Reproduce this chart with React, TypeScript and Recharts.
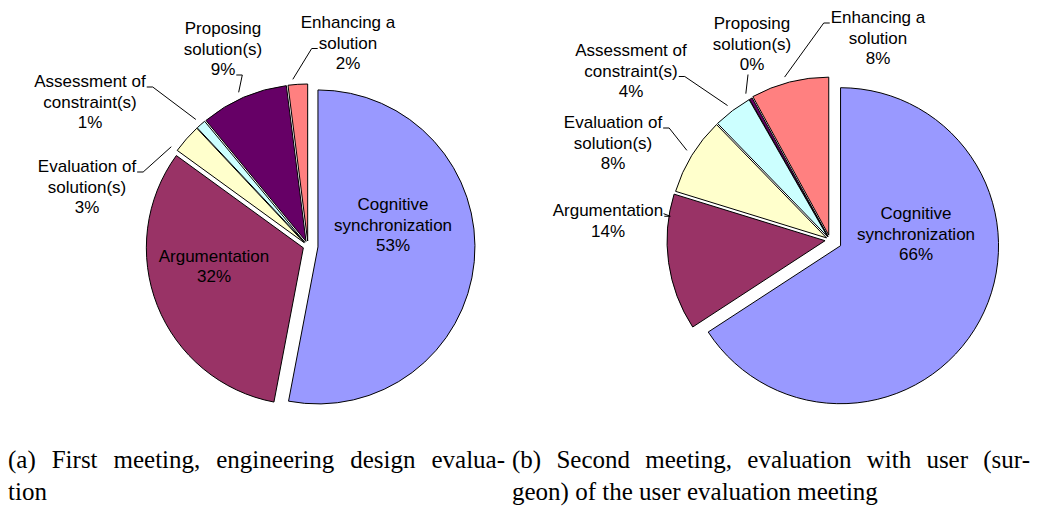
import { PieChart, Pie, Cell } from 'recharts'

// ── Data ─────────────────────────────────────────────────
const categories = [
  'Cognitive synchronization',
  'Argumentation',
  'Evaluation of solution(s)',
  'Assessment of constraint(s)',
  'Proposing solution(s)',
  'Enhancing a solution',
]
// how the category names wrap in the slice labels
const labelLines = [
  ['Cognitive', 'synchronization'],
  ['Argumentation'],
  ['Evaluation of', 'solution(s)'],
  ['Assessment of', 'constraint(s)'],
  ['Proposing', 'solution(s)'],
  ['Enhancing a', 'solution'],
]
// percentages (the 0% slice is a hairline, so a small value)
const firstMeeting = [53, 32, 3, 1, 9, 2]
const secondMeeting = [66, 14, 8, 4, 0.3, 8]

const captionA = ['(a) First meeting, engineering design evalua-', 'tion']
const captionB = ['(b) Second meeting, evaluation with user (sur-', 'geon) of the user evaluation meeting']

// ── Style ────────────────────────────────────────────────
const COLORS = ['#9999FF', '#993366', '#FFFFCC', '#CCFFFF', '#660066', '#FF8080']
const FONT = '"Liberation Sans", Arial, sans-serif'
const FONT_SIZE = 17
const LINE_H = 20.5

type LabelCfg = {
  dx: number
  dy: number
  anchor?: 'right' | 'left' | 'bottom'
  line?: number
  shift?: number
}
type ChartCfg = { cx: number; cy: number; r: number; explode: number[]; labels: LabelCfg[] }

const CHART_A: ChartCfg = {
  cx: 303,
  cy: 241,
  r: 157,
  explode: [10, 5, 5, 5, 5, 5],
  labels: [
    { dx: 90, dy: -16 },
    { dx: -89, dy: 25.5 },
    { dx: -216, dy: -54, anchor: 'right', line: 0, shift: -6 },
    { dx: -213, dy: -139, anchor: 'right', line: 0 },
    { dx: -80, dy: -192, anchor: 'right', line: 2 },
    { dx: 45, dy: -198, anchor: 'left', line: 1 },
  ],
}

const CHART_B: ChartCfg = {
  cx: 305,
  cy: 235,
  r: 158,
  explode: [12, 5, 4, 4, 4, 5],
  labels: [
    { dx: 91, dy: -1 },
    { dx: -217, dy: -14, anchor: 'right', line: 0, shift: 16 },
    { dx: -212, dy: -92, anchor: 'right', line: 0 },
    { dx: -194, dy: -164, anchor: 'right', line: 1 },
    { dx: -73, dy: -191, anchor: 'bottom' },
    { dx: 53, dy: -197, anchor: 'left', line: 0 },
  ],
}

// ── Helpers ──────────────────────────────────────────────
let ctx: CanvasRenderingContext2D | null = null
function textWidth(s: string): number {
  if (!ctx) ctx = document.createElement('canvas').getContext('2d')
  if (!ctx) return s.length * FONT_SIZE * 0.5
  ctx.font = `${FONT_SIZE}px ${FONT}`
  return ctx.measureText(s).width
}

// mid angles in recharts convention (deg, counter-clockwise from 3 o'clock)
function midAngles(values: number[]): number[] {
  const total = values.reduce((a, b) => a + b, 0)
  let cum = 0
  return values.map((v) => {
    const mid = 90 - (360 * (cum + v / 2)) / total
    cum += v
    return mid
  })
}

function SliceLabel(props: any & { cfg: ChartCfg }) {
  const { midAngle, index, value, cfg } = props
  const lc: LabelCfg = cfg.labels[index]
  const lines = [...labelLines[index], `${Math.round(value)}%`]
  const bx = cfg.cx + lc.dx
  const by = cfg.cy + lc.dy
  const ys = lines.map((_, k) => by + (k - (lines.length - 1) / 2) * LINE_H)

  let leader = null
  if (lc.anchor) {
    const e = cfg.explode[index]
    const rad = (midAngle * Math.PI) / 180
    const ecx = cfg.cx + e * Math.cos(rad)
    const ecy = cfg.cy - e * Math.sin(rad)
    const ang = ((midAngle - (lc.shift ?? 0)) * Math.PI) / 180
    const ex = ecx + cfg.r * Math.cos(ang)
    const ey = ecy - cfg.r * Math.sin(ang)
    let pts: number[][]
    if (lc.anchor === 'bottom') {
      const ax = bx - 4
      const ay = ys[ys.length - 1] + 10
      pts = [[ax, ay], [ex, ey]]
    } else {
      const li = lc.line ?? 0
      const w = textWidth(lines[li])
      const sgn = lc.anchor === 'right' ? 1 : -1
      const ax = bx + sgn * (w / 2 + 1)
      const ay = ys[li] + 5.5
      pts = [[ax, ay], [ax + sgn * 6, ay], [ex, ey]]
    }
    leader = (
      <polyline
        points={pts.map((p) => p.join(',')).join(' ')}
        fill="none"
        stroke="#000"
        strokeWidth={1}
      />
    )
  }

  return (
    <g>
      {leader}
      {lines.map((t, k) => (
        <text
          key={k}
          x={bx}
          y={ys[k]}
          textAnchor="middle"
          dominantBaseline="central"
          fontFamily={FONT}
          fontSize={FONT_SIZE}
          fill="#000"
        >
          {t}
        </text>
      ))}
    </g>
  )
}

function MeetingPie({ values, cfg }: { values: number[]; cfg: ChartCfg }) {
  const data = categories.map((name, i) => ({ name, value: values[i] }))
  const mids = midAngles(values)

  return (
    <PieChart width={520} height={430}>
      {/* one pie per slice so each slice can be pulled out along its mid angle */}
      {data.map((_, i) => {
        const rad = (mids[i] * Math.PI) / 180
        const ox = cfg.explode[i] * Math.cos(rad)
        const oy = -cfg.explode[i] * Math.sin(rad)
        return (
          <Pie
            key={`slice-${i}`}
            data={data}
            dataKey="value"
            nameKey="name"
            cx={cfg.cx + ox}
            cy={cfg.cy + oy}
            innerRadius={0}
            outerRadius={cfg.r}
            startAngle={90}
            endAngle={-270}
            isAnimationActive={false}
            labelLine={false}
          >
            {data.map((_, j) => (
              <Cell
                key={j}
                fill={j === i ? COLORS[j] : 'none'}
                stroke={j === i ? '#000' : 'none'}
                strokeWidth={1}
              />
            ))}
          </Pie>
        )
      })}
      {/* labels + leader lines */}
      <Pie
        key="labels"
        data={data}
        dataKey="value"
        nameKey="name"
        cx={cfg.cx}
        cy={cfg.cy}
        innerRadius={0}
        outerRadius={cfg.r}
        startAngle={90}
        endAngle={-270}
        isAnimationActive={false}
        fill="none"
        stroke="none"
        labelLine={false}
        label={(p: any) => <SliceLabel {...p} cfg={cfg} />}
      >
        {data.map((_, j) => (
          <Cell key={j} fill="none" stroke="none" />
        ))}
      </Pie>
    </PieChart>
  )
}

function Caption({ lines, left, width }: { lines: string[]; left: number; width: number }) {
  return (
    <div
      style={{
        position: 'absolute',
        left,
        top: 444,
        width,
        fontFamily: '"Liberation Serif", "Times New Roman", serif',
        fontSize: 25,
        lineHeight: '32px',
        color: '#000',
      }}
    >
      <div style={{ textAlign: 'justify', textAlignLast: 'justify', whiteSpace: 'nowrap' as const }}>
        {lines[0]}
      </div>
      <div>{lines[1]}</div>
    </div>
  )
}

export default function App() {
  return (
    <div style={{ position: 'absolute', left: 0, top: 0, width: 1040, height: 507, background: '#fff' }}>
      <div style={{ position: 'absolute', left: 0, top: 0 }}>
        <MeetingPie values={firstMeeting} cfg={CHART_A} />
      </div>
      <div style={{ position: 'absolute', left: 520, top: 0 }}>
        <MeetingPie values={secondMeeting} cfg={CHART_B} />
      </div>
      <Caption lines={captionA} left={8} width={497} />
      <Caption lines={captionB} left={512} width={518} />
    </div>
  )
}
